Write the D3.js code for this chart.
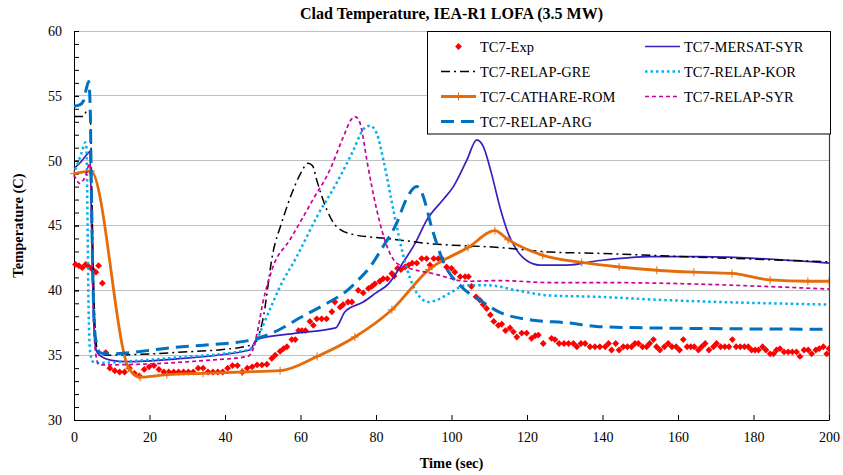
<!DOCTYPE html>
<html><head><meta charset="utf-8">
<script src="https://cdn.jsdelivr.net/npm/d3@7"></script>
<style>body{margin:0;background:#fff}svg{display:block}</style>
</head><body><svg id="c" width="843" height="475"></svg>
<script>
// ---- data ----
const xTicks = [0,20,40,60,80,100,120,140,160,180,200];
const yTicks = [30,35,40,45,50,55,60];
const yMinorTicks = d3.range(30,61,1);
const seriesNames = ["TC7-Exp","TC7-MERSAT-SYR","TC7-RELAP-GRE","TC7-RELAP-KOR","TC7-CATHARE-ROM","TC7-RELAP-SYR","TC7-RELAP-ARG"];

const expData = [[0.4,42.0],[1.3,41.9],[2.2,41.75],[3.1,42.0],[4.0,41.8],[4.9,41.6],[5.8,41.4],[6.5,41.9],[7.5,40.55],[8.4,35.2],[9.5,34.0],[10.8,33.8],[12.1,33.7],[13.4,33.7],[14.7,34.0],[16.0,33.6],[17.3,33.4],[18.6,33.9],[19.9,34.1],[21.2,34.2],[22.5,33.9],[23.8,33.7],[25.1,33.7],[26.4,33.7],[27.7,33.7],[29.0,33.7],[30.3,33.7],[31.6,33.7],[32.9,34.0],[34.2,34.0],[35.5,33.7],[36.8,33.7],[38.1,33.7],[39.4,33.7],[40.7,34.0],[42.0,34.2],[43.3,34.2],[44.6,33.7],[45.9,34.0],[47.2,34.1],[48.5,34.25],[49.8,34.25],[51.1,34.3],[52.4,34.75],[53.3,35.0],[54.6,35.3],[55.5,35.5],[56.4,35.65],[57.7,36.2],[58.6,36.2],[59.5,36.9],[60.4,36.9],[61.3,36.9],[62.5,37.6],[63.4,37.3],[64.3,37.8],[65.6,37.8],[66.9,37.8],[68.3,38.35],[69.1,39.1],[70.5,38.7],[71.3,38.9],[72.6,39.1],[73.6,39.1],[75.3,40.0],[76.6,39.8],[78.0,40.15],[78.9,40.3],[79.7,40.5],[81.0,40.7],[81.9,40.9],[83.0,40.9],[84.2,41.3],[84.8,41.1],[85.7,41.7],[86.6,41.6],[87.7,41.8],[88.6,41.95],[89.6,42.1],[90.8,42.1],[92.1,42.45],[93.4,42.45],[94.3,41.95],[95.3,42.45],[96.5,42.45],[97.4,42.45],[98.7,41.8],[100.0,41.7],[100.9,41.4],[102.3,41.05],[103.6,41.05],[104.5,41.05],[105.3,40.3],[106.5,39.5],[107.5,39.25],[108.4,38.9],[109.3,38.6],[110.3,38.1],[111.2,37.6],[112.4,37.3],[113.3,37.4],[114.3,36.9],[115.5,37.1],[116.4,36.8],[117.3,36.4],[118.6,36.7],[119.9,36.7],[121.2,36.3],[122.2,36.5],[123.0,36.55],[124.3,35.9],[126.5,36.3],[127.4,36.2],[128.5,35.9],[129.8,35.9],[131.0,35.9],[132.3,35.9],[133.2,35.65],[134.3,35.9],[135.4,35.9],[136.7,35.65],[138.0,35.65],[139.3,35.65],[140.7,35.65],[141.6,35.9],[142.4,35.4],[143.5,35.9],[144.4,35.4],[145.5,35.65],[146.6,35.65],[147.7,35.65],[148.6,35.9],[149.5,35.9],[150.6,35.65],[151.7,35.65],[152.5,35.9],[153.5,36.2],[154.3,35.65],[155.2,35.4],[156.4,35.65],[157.4,35.9],[158.4,35.65],[159.5,35.65],[160.4,35.4],[161.4,36.2],[162.4,35.65],[163.4,35.65],[164.3,35.65],[165.4,35.4],[166.3,35.65],[167.2,35.9],[168.2,35.4],[169.4,35.65],[170.2,35.9],[171.3,35.65],[172.4,35.65],[173.5,35.65],[174.4,36.2],[175.4,35.65],[176.5,35.65],[177.6,35.65],[178.6,35.65],[179.5,35.4],[180.4,35.4],[181.3,35.4],[182.4,35.65],[183.3,35.4],[184.4,35.1],[185.3,35.1],[186.1,35.4],[187.0,35.5],[188.1,35.25],[189.2,35.25],[190.3,35.25],[191.4,35.25],[192.3,34.9],[193.4,35.4],[194.5,35.4],[195.4,35.1],[196.5,35.4],[197.4,35.5],[198.5,35.65],[199.4,35.1],[200.0,35.5]];

const mersatData = [[0,49.4],[1.5,49.8],[3.2,50.4],[4.2,50.7],[4.6,46],[5.0,40],[5.4,36.5],[6.0,35.3],[7.5,34.85],[10,34.6],[14,34.5],[26.5,34.7],[46.6,35.4],[48.5,36.25],[59,36.7],[69.3,37.1],[71.8,38.35],[76.6,39.1],[80,39.8],[83.3,40.5],[86.6,41.9],[90.5,43.7],[93.4,45.4],[97.8,47.0],[100.5,48.0],[104,50.0],[106.7,51.6],[108.4,51.1],[110.6,49.0],[112.8,46.45],[115,44.4],[117.3,43.1],[119.9,42.3],[123.4,41.95],[130.5,41.95],[139.3,42.3],[152.6,42.6],[165.8,42.6],[200,42.1]];

const greData = [[0,53.4],[2.5,53.4],[3.5,53.9],[4.3,53.8],[4.7,48],[5.1,42],[5.6,37],[6.3,35.3],[8.7,35.0],[26.5,35.2],[44,35.6],[47.7,35.9],[48.8,36.4],[50,37.7],[52.7,42.9],[55,45.2],[58,47.7],[60,49.0],[62,49.8],[63.2,49.6],[64.3,48.5],[67,46.2],[69.6,44.9],[74,44.3],[82.9,44.0],[94.3,43.6],[112.8,43.3],[126,42.95],[139,42.85],[157,42.65],[200,42.2]];

const korData = [[0.3,49.3],[1.0,49.8],[2.0,50.6],[3.0,51.4],[3.3,51.0],[3.6,45],[3.9,38],[4.3,35.2],[5.0,34.5],[6.5,34.4],[13,34.5],[26.5,34.8],[46,35.4],[48,35.9],[49.5,36.9],[52,38.6],[54.6,40.3],[59,42.6],[64.4,45.7],[69.6,48.3],[74,50.8],[76.6,52.4],[78.4,52.7],[80.2,52.1],[82,50.0],[84.6,46.2],[87.3,42.6],[90.8,39.8],[93.9,39.1],[96.5,39.3],[99.6,39.8],[104,40.4],[109.4,40.4],[117.3,40.0],[126,39.6],[139,39.5],[152.6,39.3],[200,38.9]];

const romData = [[0,49.0],[4.5,49.2],[14.5,34.0],[17.5,33.3],[24.6,33.5],[34.2,33.6],[44.5,33.7],[54.6,33.8],[64.4,34.9],[74.4,36.4],[84.2,38.5],[94,41.6],[104.4,43.3],[111.5,44.6],[115,43.9],[124.2,42.7],[134.5,42.15],[144.4,41.8],[154.4,41.55],[164.2,41.4],[174.3,41.3],[184.4,40.8],[194.4,40.7],[200,40.7]];

const syrData = [[0,48.9],[1.5,48.25],[3,48.8],[4.2,49.8],[4.6,46],[5.0,40],[5.6,35.5],[6.5,34.3],[7.5,34.25],[17.7,34.3],[35.2,34.6],[46,34.9],[47.2,35.3],[48.5,36.7],[50,39.0],[52.7,41.8],[57.2,43.9],[63.3,47.0],[67.8,49.3],[71.3,51.8],[73.5,53.2],[74.4,53.4],[75.5,53.1],[76.2,52.4],[77.6,50.0],[80.2,46.2],[82.9,43.4],[85.5,42.1],[90,41.6],[95,41.3],[104,40.7],[112.8,40.75],[126,40.6],[139,40.6],[200,40.1]];

const argData = [[0,54.2],[1.5,54.3],[2.5,54.6],[3.3,55.6],[3.9,56.1],[4.3,54],[4.6,48],[5.0,41],[5.6,36.5],[6.9,35.2],[8.7,35.1],[26.5,35.6],[47.7,36.2],[49.7,36.4],[54.6,37.0],[60,37.9],[67.6,39.1],[72,39.9],[75.3,40.8],[78.4,41.8],[81.5,43.2],[85.5,45.2],[88,47.0],[90.8,48.0],[92,47.6],[95,44.6],[97.7,42.3],[102.7,40.25],[107.5,39.25],[112.8,38.3],[121.6,37.7],[130.6,37.5],[139,37.2],[152.6,37.1],[200,37.0]];

// ---- layout ----
const svg = d3.select("#c");
const L = 74, R = 829, T = 31, B = 420;
const x = d3.scaleLinear().domain([0,200]).range([L,R]);
const y = d3.scaleLinear().domain([30,60]).range([B,T]);
const font = "'Liberation Serif','Times New Roman',serif";

svg.append("rect").attr("width",843).attr("height",475).attr("fill","#fff");

// gridlines
svg.append("g").selectAll("line").data(yTicks.filter(v=>v>30)).join("line")
  .attr("x1",L).attr("x2",R).attr("y1",d=>y(d)).attr("y2",d=>y(d))
  .attr("stroke","#c0c0c0").attr("stroke-width",1).attr("shape-rendering","crispEdges");

// right border
svg.append("line").attr("x1",R+0.5).attr("x2",R+0.5).attr("y1",T).attr("y2",B)
  .attr("stroke","#404040").attr("stroke-width",1.2);

// axes
const xAxis = d3.axisBottom(x).tickValues(xTicks).tickSizeInner(-5).tickSizeOuter(0).tickPadding(12);
const gx = svg.append("g").attr("transform",`translate(0,${B})`).call(xAxis);
gx.attr("font-family",font);
gx.selectAll("text").attr("font-family",font).attr("font-size",14).attr("fill","#000");
gx.selectAll("line,path").attr("stroke","#000");

const yAxisMinor = d3.axisLeft(y).tickValues(yMinorTicks).tickSizeInner(-5).tickSizeOuter(0).tickFormat("");
svg.append("g").attr("transform",`translate(${L},0)`).call(yAxisMinor).selectAll("line,path").attr("stroke","#000");
const yAxis = d3.axisLeft(y).tickValues(yTicks).tickSizeInner(-5).tickSizeOuter(0).tickPadding(12);
const gy = svg.append("g").attr("transform",`translate(${L},0)`).call(yAxis);
gy.attr("font-family",font);
gy.selectAll("text").attr("font-family",font).attr("font-size",14).attr("fill","#000");
gy.selectAll("line,path").attr("stroke","#000");

// titles
svg.append("text").attr("x",(L+R)/2).attr("y",19).attr("text-anchor","middle")
  .attr("font-family",font).attr("font-size",16).attr("font-weight","bold").text("Clad Temperature, IEA-R1 LOFA (3.5 MW)");
svg.append("text").attr("x",(L+R)/2).attr("y",468).attr("text-anchor","middle")
  .attr("font-family",font).attr("font-size",14.5).attr("font-weight","bold").text("Time (sec)");
svg.append("text").attr("transform",`translate(23,${(T+B)/2}) rotate(-90)`).attr("text-anchor","middle")
  .attr("font-family",font).attr("font-size",14.5).attr("font-weight","bold").text("Temperature (C)");

// clip
svg.append("clipPath").attr("id","clip").append("rect").attr("x",L-8).attr("y",T).attr("width",R-L+8).attr("height",B-T);
const plot = svg.append("g").attr("clip-path","url(#clip)");

const styles = {
  "TC7-MERSAT-SYR": {stroke:"#3A1FC0", width:1.7, dash:null},
  "TC7-RELAP-GRE": {stroke:"#000000", width:1.5, dash:"9,4,2,4"},
  "TC7-RELAP-KOR": {stroke:"#00B0F0", width:2.5, dash:"2.5,3"},
  "TC7-CATHARE-ROM": {stroke:"#E46C0A", width:2.8, dash:null},
  "TC7-RELAP-SYR": {stroke:"#CC0099", width:1.7, dash:"4,3"},
  "TC7-RELAP-ARG": {stroke:"#0070C0", width:3, dash:"13,7"}
};
const dataBy = {
  "TC7-MERSAT-SYR": mersatData, "TC7-RELAP-GRE": greData, "TC7-RELAP-KOR": korData,
  "TC7-CATHARE-ROM": romData, "TC7-RELAP-SYR": syrData, "TC7-RELAP-ARG": argData
};
const diamond = "M0,-3.4L3.4,0L0,3.4L-3.4,0Z";

// exp markers
plot.append("g").selectAll("path").data(expData).join("path")
  .attr("d",diamond).attr("transform",d=>`translate(${x(d[0])},${y(d[1])})`).attr("fill","#FF0000");

seriesNames.slice(1).forEach(name=>{
  const s = styles[name];
  const line = d3.line().x(d=>x(d[0])).y(d=>y(d[1])).curve(d3.curveMonotoneX);
  plot.append("path").datum(dataBy[name]).attr("d",line).attr("fill","none")
    .attr("stroke",s.stroke).attr("stroke-width",s.width).attr("stroke-dasharray",s.dash)
    .attr("stroke-linejoin","round");
  if(name==="TC7-CATHARE-ROM"){
    plot.append("g").selectAll("path").data(dataBy[name]).join("path")
      .attr("d","M-4,0H4M0,-4V4").attr("transform",d=>`translate(${x(d[0])},${y(d[1])})`)
      .attr("stroke",s.stroke).attr("stroke-width",1).attr("fill","none");
  }
});

// legend
const lg = svg.append("g");
lg.append("rect").attr("x",427.5).attr("y",31.5).attr("width",403).attr("height",102.5)
  .attr("fill","#fff").attr("stroke","#000").attr("stroke-width",1);
const legendPos = {
  "TC7-Exp":[0,0], "TC7-MERSAT-SYR":[1,0], "TC7-RELAP-GRE":[0,1], "TC7-RELAP-KOR":[1,1],
  "TC7-CATHARE-ROM":[0,2], "TC7-RELAP-SYR":[1,2], "TC7-RELAP-ARG":[0,3]
};
const colX = [441, 645], rowY = [46.5, 71.5, 96.5, 121.5];
seriesNames.forEach(name=>{
  const [c,r] = legendPos[name];
  const x0 = colX[c], x1 = x0+35, yy = rowY[r];
  if(name==="TC7-Exp"){
    lg.append("path").attr("d",diamond).attr("transform",`translate(${(x0+x1)/2},${yy})`).attr("fill","#FF0000");
  } else {
    const s = styles[name];
    lg.append("line").attr("x1",x0).attr("x2",x1).attr("y1",yy).attr("y2",yy)
      .attr("stroke",s.stroke).attr("stroke-width",s.width).attr("stroke-dasharray",s.dash);
    if(name==="TC7-CATHARE-ROM"){
      lg.append("path").attr("d","M-4,0H4M0,-4V4").attr("transform",`translate(${(x0+x1)/2},${yy})`)
        .attr("stroke",s.stroke).attr("stroke-width",1);
    }
  }
  lg.append("text").attr("x",x1+4).attr("y",yy+5).attr("font-family",font).attr("font-size",14.5)
    .attr("fill","#000").text(name);
});
</script>
</body></html>
